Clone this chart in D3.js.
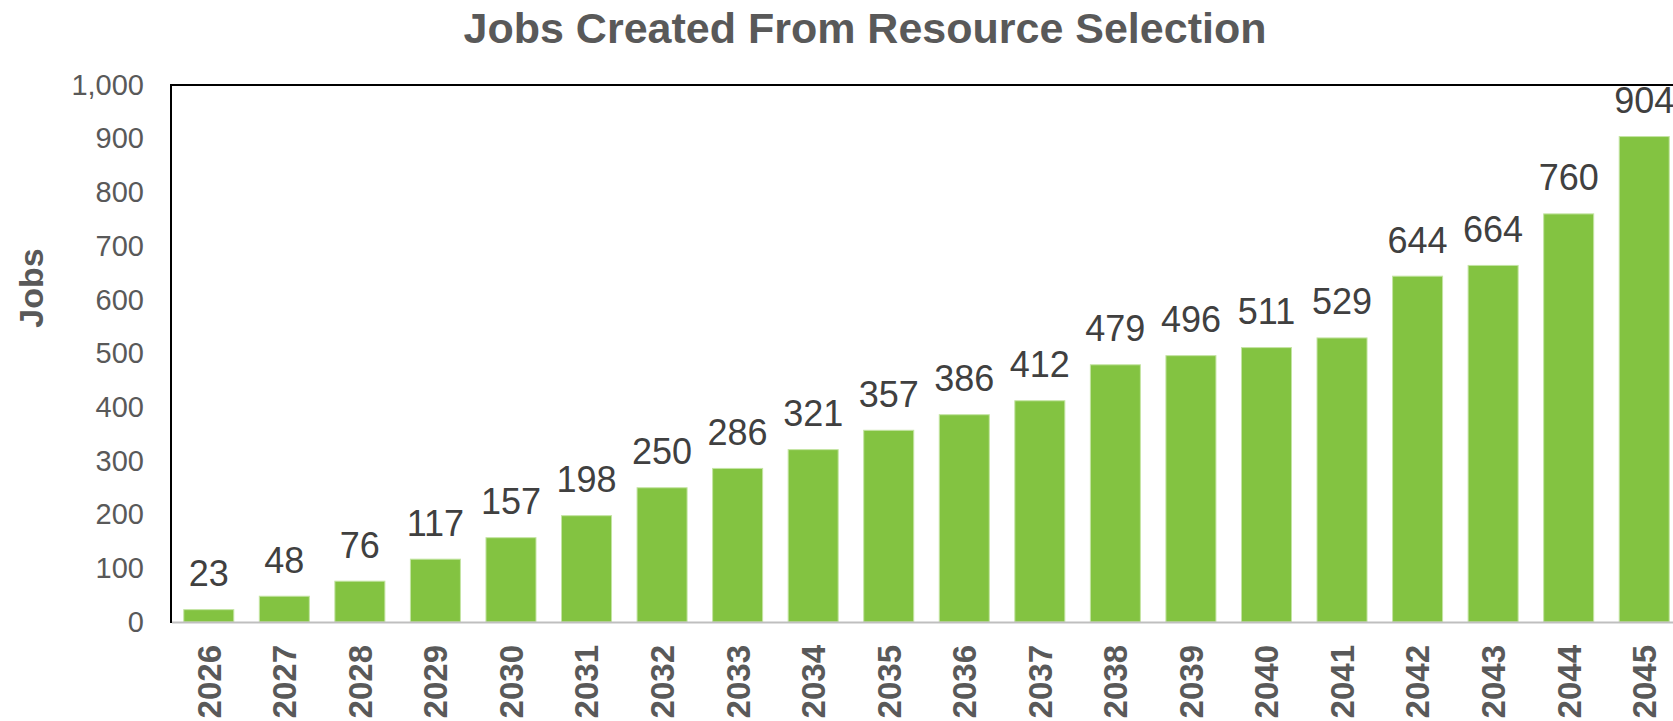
<!DOCTYPE html>
<html>
<head>
<meta charset="utf-8">
<script src="https://cdn.jsdelivr.net/npm/d3@7"></script>
<style>
  html, body { margin: 0; padding: 0; background: #ffffff; }
  svg { display: block; font-family: Arial, "Liberation Sans", sans-serif; }
</style>
</head>
<body>
<svg id="chart" width="1673" height="721"></svg>
<script>
// Jobs per year
const years = ["2026","2027","2028","2029","2030","2031","2032","2033","2034","2035",
               "2036","2037","2038","2039","2040","2041","2042","2043","2044","2045"];
const jobs = [23, 48, 76, 117, 157, 198, 250, 286, 321, 357,
              386, 412, 479, 496, 511, 529, 644, 664, 760, 904];
const yTicks = [0, 100, 200, 300, 400, 500, 600, 700, 800, 900, 1000];

const svg = d3.select("#chart");
const W = 1673, H = 721;
const plot = { left: 171, right: 1682, top: 85, bottom: 622 };

const x = d3.scaleBand().domain(years).range([plot.left, plot.right])
  .paddingInner(0.338).paddingOuter(0.169);
const y = d3.scaleLinear().domain([0, 1000]).range([plot.bottom, plot.top]);

// Title
svg.append("text")
  .attr("x", 865).attr("y", 42.5)
  .attr("text-anchor", "middle")
  .attr("font-size", 43).attr("font-weight", "bold")
  .attr("fill", "#595959")
  .text("Jobs Created From Resource Selection");

// Y axis title
svg.append("text")
  .attr("transform", "translate(43,288) rotate(-90)")
  .attr("text-anchor", "middle")
  .attr("font-size", 34).attr("font-weight", "bold")
  .attr("fill", "#595959")
  .text("Jobs");

// Bars
svg.append("g").selectAll("rect").data(years).join("rect")
  .attr("x", d => x(d))
  .attr("width", x.bandwidth())
  .attr("y", (d, i) => y(jobs[i]))
  .attr("height", (d, i) => y(0) - y(jobs[i]))
  .attr("fill", "#83C341")
  .attr("stroke", "#c4e4a3")
  .attr("stroke-width", 1);

// Value labels
svg.append("g").selectAll("text").data(years).join("text")
  .attr("x", d => x(d) + x.bandwidth() / 2)
  .attr("y", (d, i) => y(jobs[i]) - 23.5)
  .attr("text-anchor", "middle")
  .attr("font-size", 36)
  .attr("fill", "#404040")
  .text((d, i) => jobs[i]);

// Y axis
const yAxis = d3.axisLeft(y).tickValues(yTicks).tickSize(0).tickPadding(27)
  .tickFormat(d3.format(","));
const gy = svg.append("g").attr("transform", `translate(${plot.left},0)`).call(yAxis);
gy.select(".domain").remove();
gy.selectAll("text").attr("font-size", 29).attr("fill", "#595959")
  .attr("font-family", "Arial, 'Liberation Sans', sans-serif");

// X axis labels (rotated)
const xAxis = d3.axisBottom(x).tickSize(0);
const gx = svg.append("g").attr("transform", `translate(0,${plot.bottom})`).call(xAxis);
gx.select(".domain").remove();
gx.selectAll("text")
  .attr("font-size", 33).attr("font-weight", "bold").attr("fill", "#595959")
  .attr("font-family", "Arial, 'Liberation Sans', sans-serif")
  .attr("text-anchor", "end")
  .attr("transform", "rotate(-90)")
  .attr("x", -23).attr("y", 0).attr("dy", "0.36em");

// Plot frame: top and left in black, baseline in gray
svg.append("line")
  .attr("x1", plot.left).attr("x2", W)
  .attr("y1", plot.top).attr("y2", plot.top)
  .attr("stroke", "#000").attr("stroke-width", 2);
svg.append("line")
  .attr("x1", plot.left).attr("x2", plot.left)
  .attr("y1", plot.top - 1).attr("y2", plot.bottom + 1)
  .attr("stroke", "#000").attr("stroke-width", 2);
svg.append("line")
  .attr("x1", plot.left + 1).attr("x2", W)
  .attr("y1", plot.bottom + 0.5).attr("y2", plot.bottom + 0.5)
  .attr("stroke", "#bfbfbf").attr("stroke-width", 2);
</script>
</body>
</html>
